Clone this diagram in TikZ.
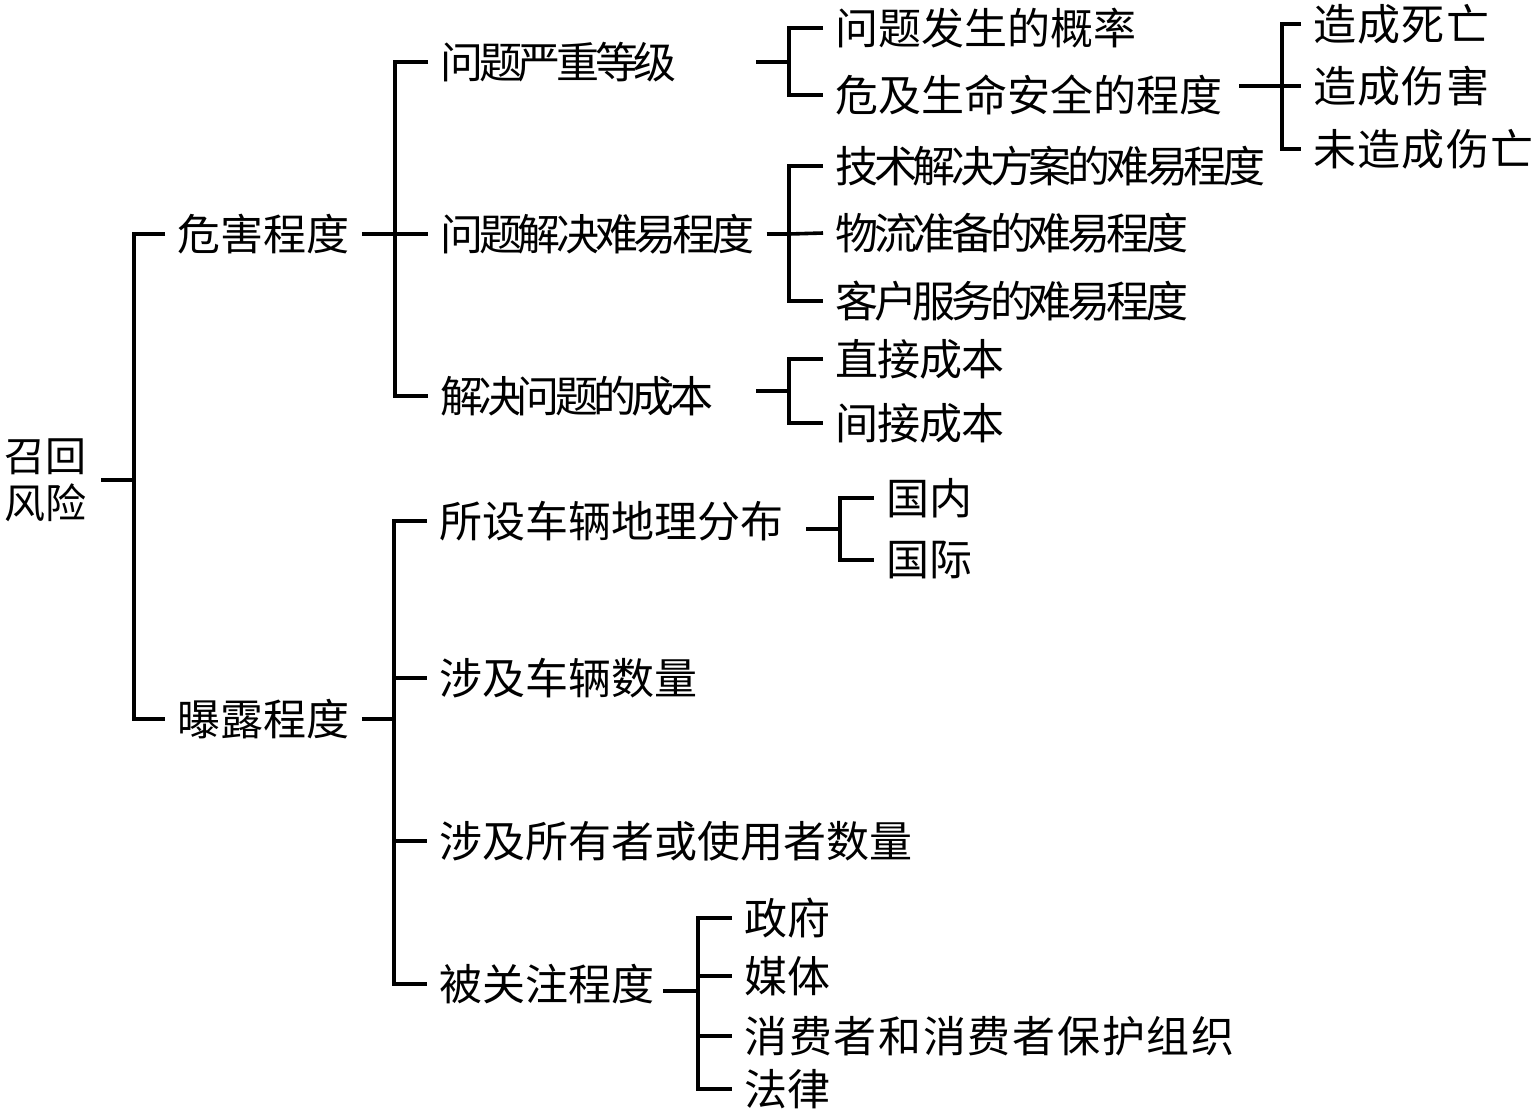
\documentclass[tikz,border=0pt]{standalone}
\usepackage{fontspec}
\newfontfamily\cjk{Noto Sans CJK SC}
\tikzset{
  lbl/.style={anchor=west, inner xsep=6pt, inner ysep=1pt, font=\cjk\fontsize{21.5}{26}\selectfont},
  lsp/.style={font=\cjk\fontsize{21.5}{26}\selectfont\addfontfeature{LetterSpace=#1}},
  link/.style={line width=1.8pt},
}
\begin{document}
\begin{tikzpicture}[x=0.5pt,y=-0.5pt]
  \useasboundingbox (0,0) rectangle (1534,1109);
  \draw
    (101,480) node[anchor=east, inner xsep=7pt, align=center, font=\cjk\fontsize{20.5}{23.5}\selectfont] (risk){召回\\风险}
    (165,234) node[lbl] (harm){危害程度}
    (165,719) node[lbl] (expo){曝露程度}
    (428,62) node[lbl,lsp=-10] (level){问题严重等级}
    (428,234) node[lbl,lsp=-10] (solve){问题解决难易程度}
    (428,396) node[lbl,lsp=-11] (cost){解决问题的成本}
    (823,28) node[lbl] (prob){问题发生的概率}
    (823,95) node[lbl] (life){危及生命安全的程度}
    (1301,24) node[lbl,lsp=3] (death){造成死亡}
    (1301,86) node[lbl,lsp=3] (hurt){造成伤害}
    (1301,149) node[lbl,lsp=3] (none){未造成伤亡}
    (823,166) node[lbl,lsp=-10] (tech){技术解决方案的难易程度}
    (823,233) node[lbl,lsp=-10] (logi){物流准备的难易程度}
    (823,301) node[lbl,lsp=-10] (serv){客户服务的难易程度}
    (823,359) node[lbl,lsp=-2] (direct){直接成本}
    (823,423) node[lbl,lsp=-2] (indirect){间接成本}
    (427,521) node[lbl] (geo){所设车辆地理分布}
    (427,678) node[lbl] (vnum){涉及车辆数量}
    (427,841) node[lbl] (unum){涉及所有者或使用者数量}
    (427,984) node[lbl] (focus){被关注程度}
    (874,498) node[lbl] (home){国内}
    (874,560) node[lbl] (abroad){国际}
    (732,918) node[lbl] (gov){政府}
    (732,976) node[lbl] (media){媒体}
    (732,1036) node[lbl,lsp=4] (cons){消费者和消费者保护组织}
    (732,1089) node[lbl] (law){法律};
  \coordinate (r0) at (134,480);
  \coordinate (h0) at (395,234);
  \coordinate (e0) at (394,719);
  \coordinate (lv1) at (756,62);
  \coordinate (lv0) at (789,62);
  \coordinate (lf1) at (1239,86);
  \coordinate (lf0) at (1282,86);
  \coordinate (sv0) at (789,234);
  \coordinate (ct1) at (756,391);
  \coordinate (ct0) at (789,391);
  \coordinate (ge1) at (806,529);
  \coordinate (ge0) at (840,529);
  \coordinate (fc1) at (663,991);
  \coordinate (fc0) at (698,991);
  \begin{scope}[link]
    \draw (risk.east) -- (r0);
    \draw (harm.west) -| (r0) |- (expo.west);
    \draw (harm.east) -- (h0);
    \draw (level.west) -| (h0) |- (cost.west);
    \draw (h0) -- (solve.west);
    \draw (expo.east) -- (e0);
    \draw (geo.west) -| (e0) |- (focus.west);
    \draw (e0 |- vnum.west) -- (vnum.west);
    \draw (e0 |- unum.west) -- (unum.west);
    \draw (lv1) -- (lv0);
    \draw (prob.west) -| (lv0) |- (life.west);
    \draw (lf1) -- (lf0);
    \draw (death.west) -| (lf0) |- (none.west);
    \draw (lf0) -- (hurt.west);
    \draw (solve.east) -- (sv0);
    \draw (tech.west) -| (sv0) |- (serv.west);
    \draw (sv0) -- (logi.west);
    \draw (ct1) -- (ct0);
    \draw (direct.west) -| (ct0) |- (indirect.west);
    \draw (ge1) -- (ge0);
    \draw (home.west) -| (ge0) |- (abroad.west);
    \draw (fc1) -- (fc0);
    \draw (gov.west) -| (fc0) |- (law.west);
    \draw (fc0 |- media.west) -- (media.west);
    \draw (fc0 |- cons.west) -- (cons.west);
  \end{scope}
\end{tikzpicture}
\end{document}
